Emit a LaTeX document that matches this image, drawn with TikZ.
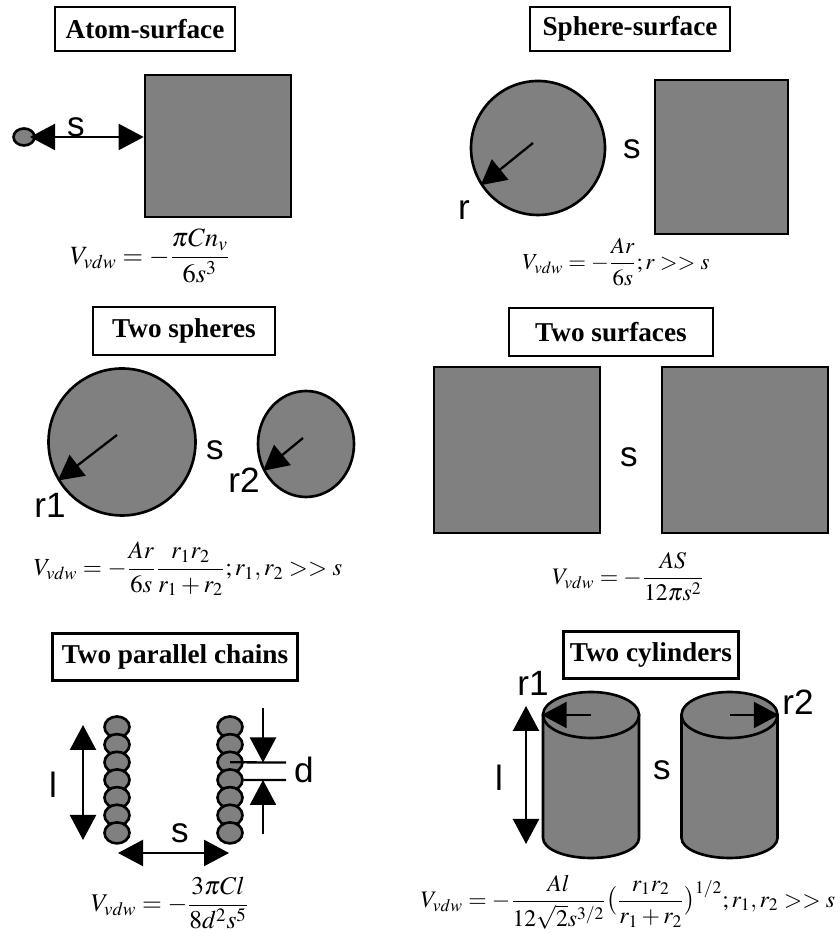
\documentclass[tikz,border=0pt]{standalone}
\usepackage{amsmath}
\usepackage{mathptmx}
\usepackage[no-math]{fontspec}
\setmainfont{Liberation Serif}
\newfontfamily\labfont{Liberation Sans}
\usepackage{tikz}
\usetikzlibrary{arrows.meta,positioning,shapes.geometric}

\tikzset{
  titlebox/.style={draw, line width=1.2pt, align=center, inner sep=0pt, minimum height=0.88cm, font=\fontsize{15.5}{18}\selectfont\bfseries},
  bodyfill/.style={draw, line width=1.5pt, fill=black!50},
  slab/.style={inner sep=0pt, font=\labfont\fontsize{20}{22}\selectfont},
  eqn/.style={inner sep=0pt, font=\fontsize{#1}{16}\selectfont},
  eqn/.default=13.5,
  sizearrow/.style={line width=1.3pt, {Triangle[length=0.5cm,width=0.52cm]}-{Triangle[length=0.5cm,width=0.52cm]}},
  radarrow/.style={line width=1.3pt, -{Triangle[length=0.5cm,width=0.52cm]}},
  bead/.style={bodyfill, ellipse, minimum width=0.5cm, minimum height=0.42cm, inner sep=0pt},
}

\begin{document}
\begin{tikzpicture}[scale=1]
\useasboundingbox (0,0) rectangle (16.78,18.66);

% atom and surface
\node[titlebox, minimum width=3.6cm] (titleatom) at (2.9,18.08) {Atom-surface};
\node[bodyfill, minimum width=2.92cm, minimum height=2.84cm] (atomsurf) at (4.36,15.74) {};
\node[bodyfill, ellipse, minimum width=0.42cm, minimum height=0.34cm, inner sep=0pt] (atom) at (0.48,15.92) {};
\draw[sizearrow] ([xshift=0.12cm]atom.center) -- (atomsurf.west |- atom);
\node[slab] (satom) at (1.52,16.12) {s};
\node[eqn=15] (eqatom) at (3.0,13.54) {$\displaystyle V_{vdw} = -\frac{\pi C n_v}{6s^3}$};

% sphere and surface
\node[titlebox, minimum width=4.0cm] (titlesphere) at (12.6,18.08) {Sphere-surface};
\node[bodyfill, circle, minimum size=2.68cm, inner sep=0pt] (sphere) at (10.76,15.7) {};
\node[bodyfill, minimum width=2.66cm, minimum height=3.08cm] (spheresurf) at (14.43,15.52) {};
\coordinate (rsphere) at (10.66,15.8);
\draw[radarrow] (rsphere) -- (sphere.213);
\node[slab] (rlab) at (9.28,14.46) {r};
\node[slab] (ssphere) at (12.64,15.68) {s};
\node[eqn=13] (eqsphere) at (12.32,13.42) {$\displaystyle V_{vdw} = -\frac{Ar}{6s};r >> s$};

% two spheres
\node[titlebox, minimum width=3.64cm, minimum height=0.96cm] (titlespheres) at (3.68,12.04) {Two spheres};
\node[bodyfill, ellipse, minimum width=2.94cm, minimum height=2.94cm, inner sep=0pt] (spherea) at (2.44,9.82) {};
\node[bodyfill, ellipse, minimum width=1.92cm, minimum height=2.12cm, inner sep=0pt] (sphereb) at (6.12,9.78) {};
\coordinate (rspherea) at (2.34,9.96);
\coordinate (rsphereb) at (6.06,9.9);
\draw[radarrow] (rspherea) -- (spherea.211);
\draw[radarrow] (rsphereb) -- (sphereb.212);
\node[slab] (rone) at (1.0,8.56) {r1};
\node[slab] (stwo) at (4.3,9.66) {s};
\node[slab] (rtwo) at (4.88,9.06) {r2};
\node[eqn=14] (eqspheres) at (3.76,7.28) {$\displaystyle V_{vdw} = -\frac{Ar}{6s}\frac{r_1 r_2}{r_1+r_2};r_1,r_2 >> s$};

% two surfaces
\node[titlebox, minimum width=4.08cm, minimum height=0.96cm] (titlesurf) at (12.22,12.02) {Two surfaces};
\node[bodyfill, minimum size=3.32cm] (surfa) at (10.34,9.66) {};
\node[bodyfill, minimum size=3.32cm] (surfb) at (14.9,9.66) {};
\node[slab] (ssurf) at (12.58,9.52) {s};
\node[eqn] (eqsurf) at (12.56,7.12) {$\displaystyle V_{vdw} = -\frac{AS}{12\pi s^2}$};

% two parallel chains
\node[titlebox, minimum width=4.9cm, minimum height=0.94cm] (titlechain) at (3.5,5.52) {Two parallel chains};
\foreach \i in {1,...,7} {
  \node[bead] (chaina\i) at (2.34,4.12-0.353*\i+0.353) {};
  \node[bead] (chainb\i) at (4.6,4.12-0.353*\i+0.353) {};
}
\coordinate (ltop) at (1.66,4.16);
\coordinate (lbot) at (1.66,1.86);
\draw[sizearrow] (ltop) -- (lbot);
\node[slab] (lchain) at (1.06,2.96) {l};
\coordinate (sleft) at (2.36,1.6);
\coordinate (sright) at (4.58,1.6);
\draw[sizearrow] (sleft) -- (sright);
\node[slab] (schain) at (3.6,2.0) {s};
\coordinate (dtop) at (5.72,3.41);
\coordinate (dbot) at (5.72,3.06);
\draw[line width=1.3pt] (chainb3.center) -- (dtop);
\draw[line width=1.3pt] (chainb4.east) -- (dbot);
\coordinate (dinta) at (5.26,4.5);
\coordinate (dintb) at (5.26,1.98);
\draw[radarrow] (dinta) -- (dinta |- dtop);
\draw[radarrow] (dintb) -- (dintb |- dbot);
\node[slab] (dlab) at (6.08,3.26) {d};
\node[eqn=14.5] (eqchain) at (3.4,0.6) {$\displaystyle V_{vdw} = -\frac{3\pi C l}{8d^2 s^5}$};

% two cylinders
\node[titlebox, minimum width=3.5cm, minimum height=0.94cm] (titlecyl) at (13.02,5.56) {Two cylinders};
\foreach \cx/\nm in {11.82/cyla,14.59/cylb} {
  \draw[bodyfill] (\cx-0.96,4.36) -- (\cx-0.96,1.9) arc[start angle=180, end angle=360, x radius=0.96, y radius=0.4] -- (\cx+0.96,4.36) -- cycle;
  \node[bodyfill, ellipse, minimum width=1.92cm, minimum height=0.92cm, inner sep=0pt] (\nm) at (\cx,4.36) {};
}
\draw[radarrow] (cyla.center) -- (cyla.west);
\draw[radarrow] (cylb.center) -- (cylb.east);
\coordinate (lcyltop) at (10.52,4.54);
\coordinate (lcylbot) at (10.52,1.78);
\draw[sizearrow] (lcyltop) -- (lcylbot);
\node[slab] (rcyla) at (10.66,5.0) {r1};
\node[slab] (rcylb) at (15.96,4.62) {r2};
\node[slab] (lcyl) at (9.98,3.1) {l};
\node[slab] (scyl) at (13.24,3.26) {s};
\node[eqn=13.5] (eqcyl) at (12.56,0.62) {$\displaystyle V_{vdw} = -\frac{Al}{12\sqrt{2}s^{3/2}}\bigl(\frac{r_1 r_2}{r_1+r_2}\bigr)^{1/2};r_1,r_2 >> s$};
\end{tikzpicture}
\end{document}
